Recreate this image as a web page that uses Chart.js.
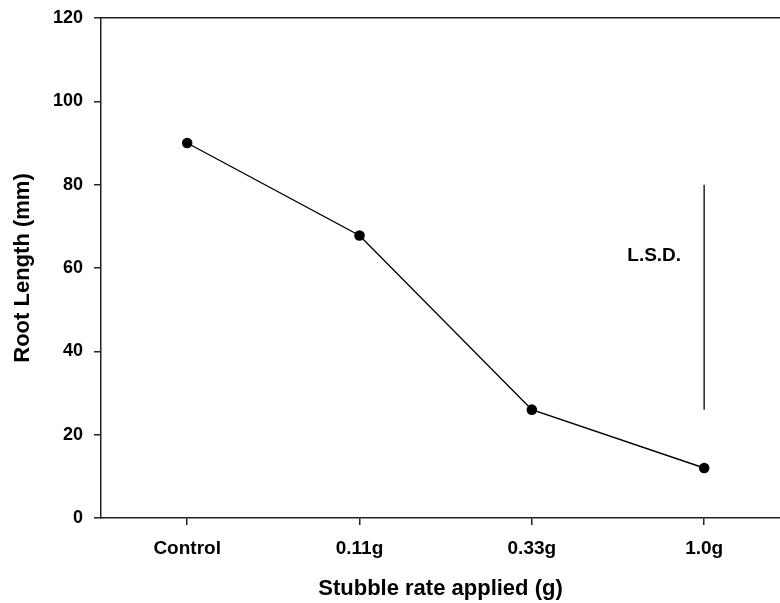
<!DOCTYPE html>
<html>
<head>
<meta charset="utf-8">
<script src="https://cdn.jsdelivr.net/npm/chart.js@4/dist/chart.umd.min.js"></script>
<style>
  html, body { margin: 0; padding: 0; background: #fff; }
  #wrap { width: 780px; height: 603px; position: relative; }
</style>
</head>
<body>
<div id="wrap"><canvas id="c" width="780" height="603"></canvas></div>
<script>
const categories = ['Control', '0.11g', '0.33g', '1.0g'];
const rootLength = [90, 67.8, 26, 12];
const lsdRange = [26, 80];
const lsdCategoryIndex = 3;
const lsdLabel = 'L.S.D.';
const lsdLabelPos = [2.71, 63];
const yAxisTitle = 'Root Length (mm)';
const xAxisTitle = 'Stubble rate applied (g)';

const FONT = 'Liberation Sans, Arial, sans-serif';
const AXIS = '#222';

const lsdPlugin = {
  id: 'lsdText',
  afterDatasetsDraw(chart) {
    const {ctx, scales} = chart;
    ctx.save();
    ctx.font = 'bold 19px ' + FONT;
    ctx.fillStyle = '#000';
    ctx.textAlign = 'center';
    ctx.textBaseline = 'middle';
    ctx.fillText(lsdLabel, scales.x.getPixelForValue(lsdLabelPos[0]), scales.y.getPixelForValue(lsdLabelPos[1]));
    ctx.restore();
  }
};

function noPad(scale) {
  scale.paddingTop = 0; scale.paddingBottom = 0;
  scale.paddingLeft = 0; scale.paddingRight = 0;
}

new Chart(document.getElementById('c'), {
  type: 'line',
  data: {
    datasets: [
      {
        data: rootLength.map((v, i) => ({x: i, y: v})),
        borderColor: '#000',
        borderWidth: 1.4,
        pointRadius: 5.3,
        pointBackgroundColor: '#000',
        pointBorderColor: '#000',
        pointBorderWidth: 0,
        tension: 0
      },
      {
        data: lsdRange.map(v => ({x: lsdCategoryIndex, y: v})),
        borderColor: '#333',
        borderWidth: 1.6,
        pointRadius: 0,
        tension: 0
      }
    ]
  },
  options: {
    responsive: false,
    animation: false,
    layout: { padding: 0, autoPadding: false },
    plugins: { legend: { display: false }, tooltip: { enabled: false } },
    scales: {
      x: {
        type: 'linear',
        position: 'bottom',
        min: -0.5,
        max: 3.44,
        afterBuildTicks(scale) { scale.ticks = categories.map((c, i) => ({value: i})); },
        afterFit(scale) { scale.height = 85; noPad(scale); },
        ticks: {
          callback: (v) => categories[v] ?? '',
          font: { family: FONT, size: 19, weight: 'bold' },
          color: '#000',
          padding: 12,
          maxRotation: 0,
          autoSkip: false
        },
        grid: { drawOnChartArea: false, drawTicks: true, tickLength: 7, color: AXIS, lineWidth: 1.5 },
        border: { display: true, color: AXIS, width: 1.5 },
        title: {
          display: true,
          text: xAxisTitle,
          font: { family: FONT, size: 22, weight: 'bold', lineHeight: 1.2 },
          color: '#000',
          padding: { top: 0, bottom: 1 }
        }
      },
      x2: {
        type: 'linear',
        position: 'top',
        afterFit(scale) { scale.height = 18; noPad(scale); },
        ticks: { display: false },
        grid: { display: false, drawTicks: false },
        border: { display: true, color: AXIS, width: 1.5 }
      },
      y: {
        type: 'linear',
        position: 'left',
        min: 0,
        max: 120,
        afterFit(scale) { scale.width = 101; noPad(scale); },
        ticks: {
          stepSize: 20,
          font: { family: FONT, size: 18, weight: 'bold' },
          color: '#000',
          padding: 11
        },
        grid: { drawOnChartArea: false, drawTicks: true, tickLength: 7, color: AXIS, lineWidth: 1.5 },
        border: { display: true, color: AXIS, width: 1.5 },
        title: {
          display: true,
          text: yAxisTitle,
          font: { family: FONT, size: 22, weight: 'bold', lineHeight: 1.2 },
          color: '#000',
          padding: { top: 10, bottom: 0 }
        }
      }
    }
  },
  plugins: [lsdPlugin]
});
</script>
</body>
</html>
